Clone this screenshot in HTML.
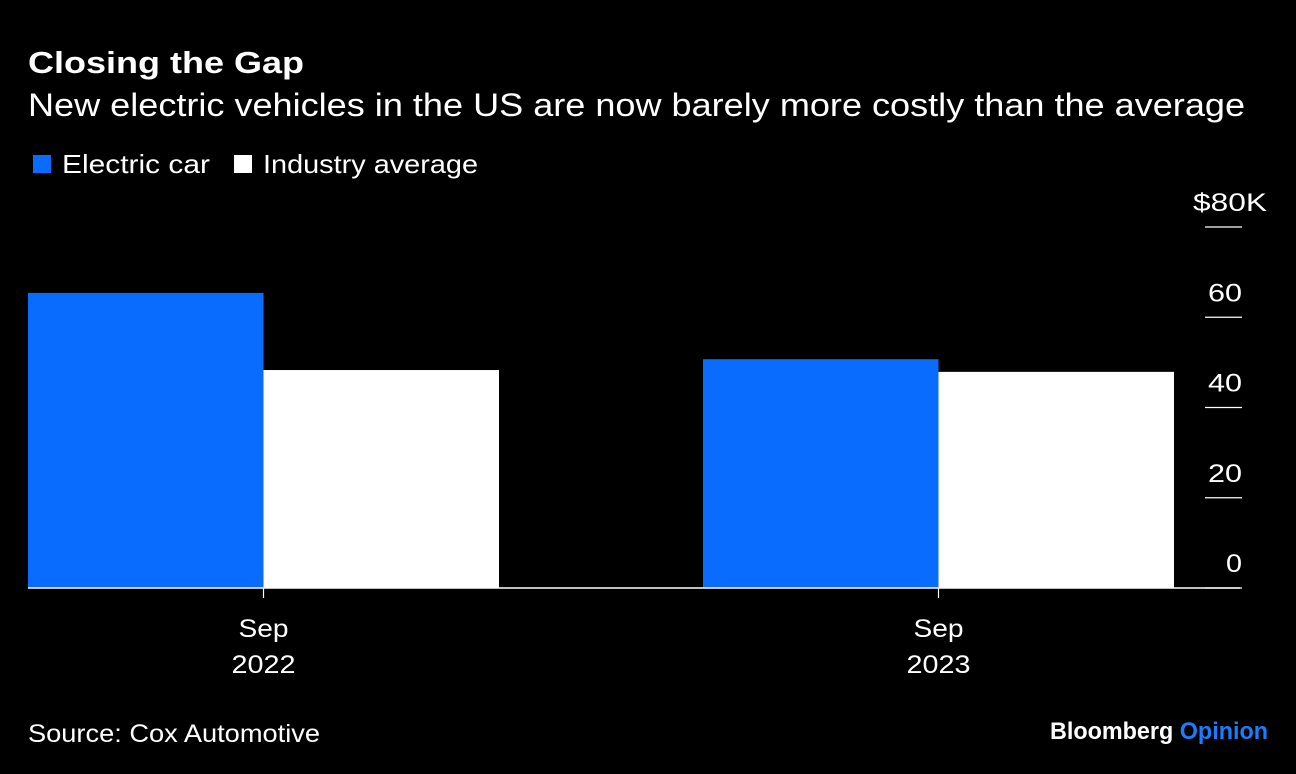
<!DOCTYPE html>
<html><head><meta charset="utf-8"><style>
body{margin:0;background:#000;width:1296px;height:774px;overflow:hidden;font-family:"Liberation Sans",Arial,sans-serif;color:#fff}
svg{position:absolute;left:0;top:0}
</style></head><body>
<svg width="1296" height="774">
<text x="28" y="73" font-size="31" font-weight="bold" fill="#fff" textLength="276" lengthAdjust="spacingAndGlyphs">Closing the Gap</text>
<text x="28" y="116" font-size="32" fill="#fff" textLength="1217" lengthAdjust="spacingAndGlyphs">New electric vehicles in the US are now barely more costly than the average</text>
<g>
<rect x="33" y="155" width="18" height="18" fill="#0a6cff"/>
<text x="62" y="173" font-size="26" fill="#fff" textLength="148" lengthAdjust="spacingAndGlyphs">Electric car</text>
<rect x="234" y="155" width="18" height="18" fill="#fff"/>
<text x="263" y="173" font-size="26" fill="#fff" textLength="215" lengthAdjust="spacingAndGlyphs">Industry average</text>
</g>
<g id="plot"></g>
<text x="28" y="742" font-size="25" fill="#fff" textLength="292" lengthAdjust="spacingAndGlyphs">Source: Cox Automotive</text>
<text x="1050" y="739" font-size="24" font-weight="bold" textLength="218" lengthAdjust="spacingAndGlyphs"><tspan fill="#fff">Bloomberg </tspan><tspan fill="#1a7cff">Opinion</tspan></text>
</svg>
<script>
const categories=["Sep|2022","Sep|2023"];
const electric=[65.4,50.7];
const industry=[48.3,47.9];
const ticks=[0,20,40,60,80];
const y0=588,yTop=227,vmax=80;
const y=v=>y0-(v/vmax)*(y0-yTop);
const groupX=[28,703],barW=235.5;
const ns="http://www.w3.org/2000/svg";
const g=document.getElementById('plot');
function mk(t,a){const e=document.createElementNS(ns,t);for(const k in a)e.setAttribute(k,a[k]);g.appendChild(e);return e;}
ticks.forEach((t,i)=>{
 const l=mk('line',{x1:1205,x2:1242,y1:y(t),y2:y(t),stroke:'#fff','stroke-width':1.2});
 
 
 const last=i===ticks.length-1;
 const lbl=last?'$'+t+'K':String(t);
 const w=last?74:(t===0?16:34);
 const tx=mk('text',{x:last?1193:1242-w,y:y(t)-16,'font-size':25,fill:'#fff',textLength:w,lengthAdjust:'spacingAndGlyphs'});
 tx.textContent=lbl;
 
 
});
categories.forEach((c,i)=>{
 const x=groupX[i];
 const b1=mk('rect',{x:x,y:y(electric[i]),width:barW,height:y0-y(electric[i]),fill:'#0a6cff'});
 
 
 const b2=mk('rect',{x:x+barW,y:y(industry[i]),width:barW,height:y0-y(industry[i]),fill:'#fff'});
 
 
 const cx=x+barW;
 const tk=mk('line',{x1:cx,x2:cx,y1:y0,y2:y0+10,stroke:'#fff','stroke-width':1.2});
 
 
 const [a,b]=c.split('|');
 const t1=mk('text',{x:cx-25,y:637,'font-size':25,fill:'#fff',textLength:50,lengthAdjust:'spacingAndGlyphs'});t1.textContent=a;
 
 
 const t2=mk('text',{x:cx-32,y:673,'font-size':25,fill:'#fff',textLength:64,lengthAdjust:'spacingAndGlyphs'});t2.textContent=b;
 
 
});
const base=mk('line',{x1:28,x2:1240,y1:y0,y2:y0,stroke:'#fff','stroke-width':1.5});


</script>
</body></html>
